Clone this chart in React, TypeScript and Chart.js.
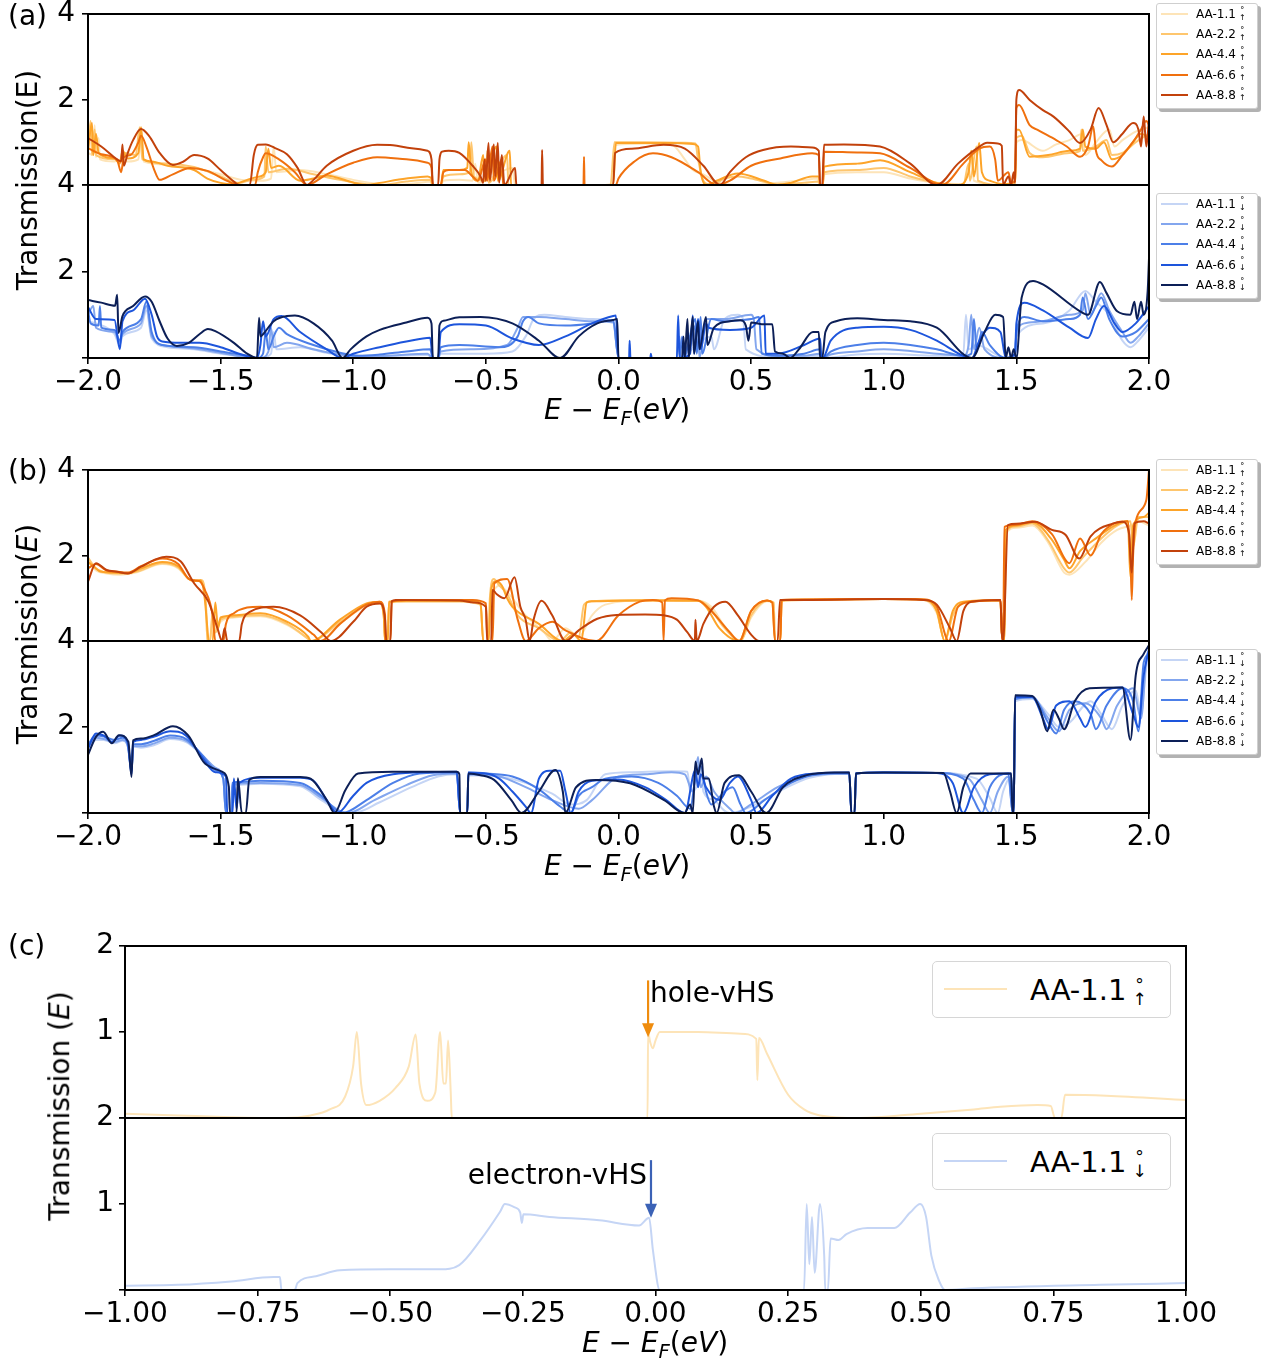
import React, { useEffect, useRef } from 'react';
import { Chart, registerables } from 'chart.js';

Chart.register(...registerables);

type Pt = [number, number];

const FONT = "'DejaVu Sans', sans-serif";

// Colour ramps for the five twist angles (light -> dark)
const ORANGES = ['#fde4b8', '#fec66e', '#fda429', '#f0700e', '#c2410b'];
const BLUES = ['#c5d5f5', '#83a6ee', '#4c7fe8', '#1d55dc', '#0c1f57'];
const ANGLES = ['1.1', '2.2', '4.4', '6.6', '8.8'];

// ---------- (a) AA stacking, spin up ----------
const A_UP_11: Pt[] = [[-2.0,0.75],[-1.98,0.7],[-1.975,1.4],[-1.97,0.65],[-1.96,1.1],[-1.955,0.6],[-1.9,0.55],[-1.87,0.6],[-1.85,0.55],[-1.81,0.6],[-1.8,1.3],[-1.79,0.55],[-1.7,0.48],[-1.6,0.4],[-1.5,0.25],[-1.42,0.12],[-1.35,0.1],[-1.31,0.15],[-1.3,0.9],[-1.29,0.3],[-1.2,0.35],[-1.1,0.25],[-1.0,0.12],[-0.9,0.02],[-0.85,0],[-0.75,0.05],[-0.71,0.08],[-0.7,0],[-0.67,0],[-0.66,0.1],[-0.6,0.12],[-0.55,0.1],[-0.54,0.5],[-0.53,0.05],[-0.4,0.4],[-0.39,0],[-0.05,0],[-0.02,0.05],[-0.015,0.9],[0.0,0.95],[0.1,0.97],[0.2,0.95],[0.25,0.6],[0.28,0.35],[0.32,0.25],[0.36,0.1],[0.4,0.02],[0.5,0],[0.6,0.05],[0.7,0.12],[0.75,0.15],[0.76,0],[0.77,0],[0.775,0.25],[0.9,0.3],[1.0,0.3],[1.1,0.15],[1.2,0.05],[1.3,0.02],[1.33,0.6],[1.34,0.1],[1.45,0],[1.495,0.05],[1.5,1.0],[1.52,1.05],[1.6,0.8],[1.65,0.95],[1.7,1.05],[1.75,1.2],[1.76,0.7],[1.8,1.0],[1.85,1.3],[1.87,0.9],[1.9,1.05],[1.95,1.25],[2.0,1.35]];
const A_UP_22: Pt[] = [[-2.0,0.78],[-1.99,1.5],[-1.985,0.7],[-1.975,1.3],[-1.97,0.7],[-1.9,0.6],[-1.87,0.55],[-1.86,0.75],[-1.82,0.7],[-1.805,1.35],[-1.795,0.6],[-1.7,0.5],[-1.6,0.42],[-1.5,0.2],[-1.43,0.05],[-1.38,0.12],[-1.335,0.2],[-1.33,0.9],[-1.32,0.3],[-1.25,0.38],[-1.15,0.25],[-1.05,0.12],[-0.95,0.02],[-0.9,0],[-0.8,0.08],[-0.71,0.12],[-0.7,0],[-0.67,0],[-0.66,0.2],[-0.6,0.25],[-0.56,0.3],[-0.555,1.0],[-0.545,0.2],[-0.5,0.1],[-0.495,0.8],[-0.49,0.05],[-0.42,0.7],[-0.415,0],[-0.03,0],[-0.015,1.0],[0.1,1.0],[0.25,0.99],[0.29,0.97],[0.3,0.6],[0.32,0.1],[0.35,0],[0.4,0.15],[0.45,0.2],[0.5,0.15],[0.6,0.02],[0.7,0.05],[0.755,0.08],[0.76,0],[0.77,0],[0.775,0.3],[0.9,0.35],[1.0,0.4],[1.1,0.2],[1.2,0.05],[1.3,0],[1.32,0.5],[1.325,0.1],[1.35,0.9],[1.355,0.1],[1.45,0],[1.495,0.05],[1.5,1.1],[1.52,1.15],[1.55,0.75],[1.6,0.65],[1.7,0.75],[1.74,0.8],[1.745,1.3],[1.75,0.8],[1.8,0.9],[1.84,1.05],[1.86,0.7],[1.9,0.75],[1.95,1.0],[2.0,1.2]];
const A_UP_44: Pt[] = [[-2.0,0.82],[-1.985,1.45],[-1.98,0.7],[-1.97,1.2],[-1.96,0.75],[-1.9,0.62],[-1.88,0.5],[-1.87,0.8],[-1.85,0.62],[-1.81,0.75],[-1.8,1.35],[-1.79,0.6],[-1.76,0.55],[-1.7,0.45],[-1.6,0.35],[-1.55,0.15],[-1.5,0.05],[-1.45,0.02],[-1.4,0.12],[-1.36,0.19],[-1.33,0.3],[-1.32,0.85],[-1.31,0.4],[-1.28,0.45],[-1.2,0.1],[-1.15,0.15],[-1.1,0.22],[-1.05,0.15],[-0.98,0.02],[-0.95,0],[-0.9,0.05],[-0.8,0.15],[-0.72,0.2],[-0.705,0.15],[-0.7,0],[-0.67,0],[-0.66,0.35],[-0.6,0.35],[-0.57,0.4],[-0.565,1.0],[-0.555,0.3],[-0.53,0.1],[-0.51,0.7],[-0.505,0.1],[-0.46,0.9],[-0.455,0.1],[-0.41,0.8],[-0.405,0],[-0.02,0],[-0.01,0.98],[0.05,0.98],[0.2,0.98],[0.28,0.96],[0.3,0.9],[0.31,0.3],[0.33,0],[0.37,0.1],[0.45,0.27],[0.55,0.1],[0.6,0],[0.65,0.05],[0.73,0.2],[0.755,0.2],[0.76,0],[0.77,0],[0.775,0.43],[0.9,0.5],[0.986,0.58],[1.1,0.3],[1.2,0.05],[1.28,0],[1.32,0.3],[1.33,0.8],[1.34,0.2],[1.36,0.98],[1.37,0.3],[1.4,0.1],[1.45,0.02],[1.495,0.1],[1.5,1.29],[1.51,1.29],[1.55,0.66],[1.62,0.7],[1.7,0.8],[1.74,0.85],[1.75,1.3],[1.76,0.9],[1.8,0.85],[1.83,1.0],[1.86,0.6],[1.9,0.7],[1.94,1.0],[1.97,1.2],[2.0,1.1]];
const A_UP_66: Pt[] = [[-2.0,0.86],[-1.95,0.72],[-1.89,0.58],[-1.875,0.3],[-1.865,0.65],[-1.84,0.7],[-1.81,1.0],[-1.8,1.15],[-1.78,0.9],[-1.75,0.35],[-1.73,0.12],[-1.68,0.25],[-1.615,0.4],[-1.55,0.33],[-1.476,0.1],[-1.43,0],[-1.37,0],[-1.36,0.3],[-1.34,0.65],[-1.33,0.74],[-1.28,0.6],[-1.22,0.3],[-1.175,0],[-1.1,0.25],[-1.0,0.52],[-0.91,0.65],[-0.8,0.6],[-0.72,0.52],[-0.705,0.4],[-0.7,0],[-0.67,0],[-0.66,0.3],[-0.64,0.35],[-0.58,0.35],[-0.55,0.2],[-0.53,0.1],[-0.5,0.6],[-0.495,0.1],[-0.475,0.9],[-0.47,0.1],[-0.44,0.6],[-0.435,0],[-0.132,0],[-0.13,0.66],[-0.128,0],[-0.01,0],[0.0,0.15],[0.06,0.55],[0.13,0.74],[0.2,0.65],[0.3,0.3],[0.37,0],[0.42,0.1],[0.5,0.45],[0.61,0.62],[0.73,0.74],[0.755,0.7],[0.76,0],[0.77,0],[0.775,0.78],[0.9,0.76],[0.986,0.74],[1.1,0.4],[1.22,0],[1.3,0.5],[1.36,0.85],[1.4,0.9],[1.42,0.6],[1.43,0.1],[1.47,0.3],[1.48,0.05],[1.495,0.1],[1.5,1.8],[1.51,1.87],[1.55,1.4],[1.58,1.29],[1.65,1.05],[1.69,0.9],[1.74,0.66],[1.77,0.9],[1.79,1.37],[1.8,0.8],[1.82,0.58],[1.86,0.43],[1.9,0.7],[1.95,1.1],[1.97,1.3],[1.99,1.5],[2.0,1.4]];
const A_UP_88: Pt[] = [[-2.0,1.1],[-1.95,0.9],[-1.89,0.6],[-1.875,0.55],[-1.87,0.95],[-1.865,0.45],[-1.85,0.75],[-1.83,1.05],[-1.8,1.31],[-1.77,1.15],[-1.73,0.75],[-1.68,0.47],[-1.64,0.55],[-1.6,0.7],[-1.55,0.62],[-1.5,0.35],[-1.45,0.08],[-1.43,0],[-1.39,0],[-1.375,0.7],[-1.36,0.94],[-1.33,0.95],[-1.29,0.85],[-1.25,0.72],[-1.21,0.4],[-1.175,0],[-1.15,0.12],[-1.1,0.45],[-1.0,0.8],[-0.91,0.94],[-0.85,0.93],[-0.78,0.86],[-0.72,0.8],[-0.705,0.6],[-0.7,0],[-0.68,0],[-0.675,0.6],[-0.665,0.78],[-0.64,0.8],[-0.6,0.75],[-0.55,0.45],[-0.52,0.2],[-0.51,0.05],[-0.505,0.6],[-0.5,0.1],[-0.49,0.98],[-0.485,0.1],[-0.47,0.95],[-0.465,0.2],[-0.455,0.98],[-0.45,0.05],[-0.44,0.7],[-0.43,0],[-0.39,0.4],[-0.385,0],[-0.29,0],[-0.288,0.82],[-0.285,0],[-0.02,0],[-0.013,0.75],[0.05,0.85],[0.17,0.94],[0.25,0.85],[0.32,0.45],[0.383,0],[0.42,0.3],[0.48,0.65],[0.545,0.82],[0.65,0.9],[0.73,0.88],[0.755,0.8],[0.76,0],[0.768,0],[0.775,0.94],[0.85,0.95],[0.986,0.9],[1.1,0.5],[1.2,0],[1.28,0.5],[1.35,0.85],[1.39,0.99],[1.43,0.97],[1.445,0.92],[1.45,0],[1.47,0.2],[1.48,0],[1.49,0.3],[1.495,0.05],[1.5,2.0],[1.51,2.22],[1.55,1.99],[1.6,1.75],[1.64,1.6],[1.7,1.25],[1.74,0.98],[1.78,1.3],[1.81,1.8],[1.84,1.4],[1.865,1.0],[1.9,1.2],[1.94,1.45],[1.96,1.3],[1.97,0.9],[1.98,1.6],[1.99,0.9],[2.0,1.55]];

// ---------- (a) AA stacking, spin down ----------
const A_DN_11: Pt[] = [[-2.0,0.85],[-1.97,0.8],[-1.9,0.55],[-1.88,0.3],[-1.87,0.5],[-1.8,0.7],[-1.78,1.1],[-1.76,0.45],[-1.7,0.25],[-1.6,0.2],[-1.5,0.1],[-1.4,0.02],[-1.35,0],[-1.31,0.1],[-1.3,0.6],[-1.29,0.2],[-1.2,0.25],[-1.1,0.12],[-1.0,0.05],[-0.9,0.05],[-0.72,0.07],[-0.7,0],[-0.68,0],[-0.67,0.1],[-0.5,0.1],[-0.4,0.15],[-0.35,0.5],[-0.32,0.9],[-0.28,1.0],[-0.2,0.95],[-0.1,0.9],[-0.02,0.85],[0.0,0],[0.22,0],[0.35,0.5],[0.36,0.2],[0.4,0.9],[0.45,1.0],[0.47,0.9],[0.48,0.2],[0.6,0.02],[0.76,0.05],[0.765,0],[0.77,0],[0.9,0.08],[1.0,0.1],[1.2,0.05],[1.3,0.1],[1.31,1.0],[1.32,0.2],[1.35,0.3],[1.46,0],[1.495,0.05],[1.5,0.5],[1.6,0.8],[1.7,1.1],[1.76,1.55],[1.8,1.3],[1.85,1.0],[1.9,0.4],[1.93,0.25],[1.96,0.4],[2.0,0.7]];
const A_DN_22: Pt[] = [[-2.0,1.0],[-1.98,1.2],[-1.97,0.7],[-1.9,0.6],[-1.88,0.35],[-1.87,0.55],[-1.8,0.8],[-1.78,1.2],[-1.76,0.5],[-1.7,0.28],[-1.6,0.22],[-1.5,0.12],[-1.42,0.03],[-1.35,0],[-1.32,0.15],[-1.31,0.7],[-1.3,0.25],[-1.25,0.35],[-1.15,0.2],[-1.05,0.08],[-0.95,0.03],[-0.85,0.06],[-0.72,0.1],[-0.7,0],[-0.68,0],[-0.67,0.15],[-0.55,0.2],[-0.42,0.3],[-0.38,0.7],[-0.36,0.95],[-0.3,0.95],[-0.2,0.9],[-0.1,0.85],[-0.02,0.82],[0.0,0],[0.22,0],[0.23,0.5],[0.235,0],[0.3,0.8],[0.305,0],[0.33,0.9],[0.4,0.9],[0.5,1.0],[0.51,0.9],[0.52,0.2],[0.6,0.05],[0.7,0.05],[0.76,0.1],[0.765,0],[0.77,0],[0.8,0.08],[0.9,0.15],[1.0,0.2],[1.2,0.1],[1.3,0.05],[1.32,0.3],[1.33,1.0],[1.34,0.2],[1.36,0.7],[1.38,0.2],[1.46,0],[1.495,0.05],[1.5,0.55],[1.53,0.8],[1.6,0.85],[1.7,1.0],[1.75,1.1],[1.76,1.5],[1.78,1.0],[1.82,1.5],[1.85,1.1],[1.9,0.6],[1.93,0.35],[1.96,0.5],[2.0,0.8]];
const A_DN_44: Pt[] = [[-2.0,1.1],[-1.99,0.8],[-1.96,0.75],[-1.955,1.2],[-1.95,0.7],[-1.9,0.65],[-1.88,0.4],[-1.87,0.6],[-1.8,0.9],[-1.78,1.3],[-1.76,0.6],[-1.72,0.3],[-1.6,0.25],[-1.5,0.15],[-1.4,0.05],[-1.36,0],[-1.34,0.1],[-1.33,0.6],[-1.32,0.2],[-1.3,0.5],[-1.28,0.7],[-1.25,0.55],[-1.15,0.3],[-1.05,0.12],[-0.98,0.05],[-0.9,0.08],[-0.8,0.15],[-0.71,0.2],[-0.7,0],[-0.68,0],[-0.67,0.25],[-0.6,0.3],[-0.45,0.25],[-0.38,0.5],[-0.36,0.85],[-0.34,0.95],[-0.3,0.8],[-0.2,0.75],[-0.1,0.8],[-0.02,0.88],[0.0,0],[0.23,0],[0.24,0.5],[0.245,0],[0.29,0.9],[0.295,0.1],[0.31,0.95],[0.315,0.1],[0.35,0.9],[0.4,0.85],[0.47,0.88],[0.5,0.9],[0.53,0.95],[0.54,0.1],[0.6,0.05],[0.7,0.1],[0.76,0.2],[0.765,0],[0.77,0],[0.8,0.15],[0.9,0.3],[1.0,0.35],[1.1,0.3],[1.2,0.2],[1.3,0.05],[1.33,0.1],[1.34,0.9],[1.35,0.2],[1.37,0.6],[1.4,0.3],[1.46,0],[1.495,0.1],[1.5,0.6],[1.53,0.95],[1.6,0.85],[1.7,0.9],[1.74,1.0],[1.75,1.4],[1.77,0.9],[1.8,1.2],[1.82,1.4],[1.85,0.9],[1.9,0.5],[1.95,0.6],[2.0,0.9]];
const A_DN_66: Pt[] = [[-2.0,1.18],[-1.97,0.9],[-1.9,0.88],[-1.88,0.2],[-1.87,0.85],[-1.83,1.1],[-1.785,1.37],[-1.76,1.0],[-1.74,0.5],[-1.72,0.38],[-1.65,0.35],[-1.58,0.35],[-1.5,0.25],[-1.42,0.08],[-1.363,0],[-1.35,0.3],[-1.34,0.85],[-1.33,0.5],[-1.3,0.9],[-1.27,0.97],[-1.2,0.6],[-1.1,0.2],[-1.04,0],[-1.0,0.1],[-0.9,0.25],[-0.8,0.38],[-0.71,0.47],[-0.7,0],[-0.68,0],[-0.67,0.6],[-0.6,0.78],[-0.5,0.75],[-0.4,0.45],[-0.3,0.3],[-0.2,0.5],[-0.1,0.8],[-0.02,0.97],[-0.01,0.98],[0.0,0],[0.04,0],[0.042,0.4],[0.045,0],[0.12,0],[0.122,0.1],[0.125,0],[0.22,0],[0.225,0.98],[0.23,0],[0.27,0.1],[0.28,0.98],[0.285,0.1],[0.3,0.9],[0.31,0.2],[0.33,0.8],[0.34,0.7],[0.42,0.65],[0.5,0.7],[0.55,0.98],[0.555,0.1],[0.6,0.1],[0.7,0.3],[0.76,0.45],[0.765,0],[0.77,0],[0.8,0.4],[0.9,0.7],[1.0,0.72],[1.1,0.65],[1.2,0.4],[1.3,0.05],[1.333,0],[1.36,0.4],[1.4,0.7],[1.44,0.6],[1.46,0],[1.495,0.1],[1.5,0.8],[1.53,1.28],[1.6,1.1],[1.7,0.7],[1.77,0.46],[1.8,0.9],[1.83,1.2],[1.87,0.8],[1.9,0.6],[1.95,0.8],[2.0,1.2]];
const A_DN_88: Pt[] = [[-2.0,1.34],[-1.95,1.28],[-1.898,1.21],[-1.89,1.46],[-1.885,0.58],[-1.87,0.97],[-1.83,1.2],[-1.785,1.42],[-1.76,1.3],[-1.73,0.85],[-1.7,0.45],[-1.665,0.28],[-1.62,0.35],[-1.58,0.55],[-1.548,0.67],[-1.52,0.62],[-1.45,0.35],[-1.4,0.1],[-1.363,0],[-1.355,0.93],[-1.35,0.5],[-1.34,0.55],[-1.3,0.85],[-1.25,0.97],[-1.22,0.98],[-1.15,0.8],[-1.08,0.4],[-1.04,0],[-1.01,0.2],[-0.95,0.5],[-0.9,0.65],[-0.8,0.82],[-0.72,0.93],[-0.705,0.8],[-0.7,0],[-0.68,0],[-0.675,0.75],[-0.66,0.86],[-0.6,0.94],[-0.52,0.95],[-0.4,0.8],[-0.3,0.4],[-0.22,0],[-0.15,0.5],[-0.08,0.8],[-0.02,0.88],[-0.005,0.9],[0.0,0],[0.24,0],[0.245,0.5],[0.25,0],[0.26,0.9],[0.265,0],[0.28,0.95],[0.285,0.1],[0.3,0.85],[0.305,0.2],[0.33,0.95],[0.335,0.3],[0.36,0.7],[0.42,0.85],[0.46,0.87],[0.48,0.75],[0.49,0.4],[0.5,0.82],[0.55,0.78],[0.58,0.78],[0.59,0.15],[0.62,0.1],[0.647,0],[0.68,0.2],[0.733,0.6],[0.755,0.6],[0.76,0],[0.768,0],[0.78,0.6],[0.82,0.85],[0.9,0.92],[1.0,0.88],[1.1,0.85],[1.2,0.7],[1.333,0],[1.38,0.6],[1.42,1.0],[1.45,0.95],[1.46,0],[1.47,0.25],[1.48,0],[1.49,0.2],[1.5,0],[1.52,1.4],[1.563,1.78],[1.6,1.7],[1.74,1.08],[1.77,1.0],[1.815,1.76],[1.84,1.5],[1.88,1.08],[1.93,1.0],[1.945,1.3],[1.955,0.9],[1.97,1.3],[1.98,1.0],[1.995,1.55],[2.0,2.3]];

// ---------- (b) AB stacking, spin up ----------
const B_UP_11: Pt[] = [[-2.0,1.9],[-1.97,1.65],[-1.93,1.58],[-1.88,1.55],[-1.82,1.6],[-1.72,1.8],[-1.66,1.7],[-1.62,1.45],[-1.6,1.42],[-1.57,1.4],[-1.555,0.8],[-1.55,0],[-1.54,0],[-1.53,0.6],[-1.52,0.2],[-1.5,0.45],[-1.45,0.55],[-1.35,0.58],[-1.25,0.38],[-1.17,0.05],[-1.16,0],[-1.05,0.42],[-0.95,0.82],[-0.9,0.88],[-0.885,0.6],[-0.88,0],[-0.87,0],[-0.865,0.9],[-0.8,0.92],[-0.6,0.92],[-0.52,0.85],[-0.51,0],[-0.49,0],[-0.485,0.9],[-0.47,1.2],[-0.45,1.3],[-0.42,1.15],[-0.35,0.6],[-0.28,0.2],[-0.25,0],[-0.2,0.3],[-0.15,0.1],[-0.1,0.6],[-0.05,0.85],[0.1,0.95],[0.3,0.95],[0.35,0.8],[0.4,0.35],[0.46,0],[0.5,0.55],[0.56,0.93],[0.585,0.9],[0.59,0],[0.61,0],[0.615,0.94],[0.7,0.96],[1.0,0.98],[1.15,0.96],[1.2,0.65],[1.23,0],[1.26,0.6],[1.3,0.9],[1.44,0.95],[1.445,0.2],[1.455,0],[1.46,2.5],[1.5,2.65],[1.56,2.7],[1.62,2.3],[1.68,1.6],[1.7,1.55],[1.76,1.85],[1.82,2.3],[1.88,2.6],[1.93,2.7],[1.96,2.8],[2.0,2.7]];
const B_UP_22: Pt[] = [[-2.0,1.95],[-1.97,1.7],[-1.93,1.6],[-1.88,1.58],[-1.82,1.62],[-1.72,1.82],[-1.66,1.72],[-1.62,1.45],[-1.6,1.42],[-1.57,1.42],[-1.555,0.8],[-1.55,0],[-1.54,0],[-1.53,0.7],[-1.52,0.2],[-1.5,0.5],[-1.45,0.57],[-1.35,0.6],[-1.25,0.4],[-1.17,0.05],[-1.16,0],[-1.05,0.45],[-0.95,0.85],[-0.9,0.9],[-0.885,0.6],[-0.88,0],[-0.87,0],[-0.865,0.9],[-0.8,0.93],[-0.6,0.93],[-0.52,0.85],[-0.51,0],[-0.49,0],[-0.485,1.0],[-0.47,1.45],[-0.45,1.3],[-0.42,1.1],[-0.38,0.6],[-0.3,0.3],[-0.22,0],[-0.18,0.2],[-0.15,0.1],[-0.13,0.85],[-0.1,0.93],[0.1,0.96],[0.3,0.95],[0.34,0.8],[0.4,0.3],[0.46,0],[0.5,0.6],[0.56,0.94],[0.585,0.9],[0.59,0],[0.61,0],[0.615,0.94],[0.7,0.96],[1.0,0.98],[1.15,0.96],[1.2,0.7],[1.23,0],[1.26,0.6],[1.3,0.9],[1.44,0.95],[1.445,0.2],[1.455,0],[1.46,2.55],[1.5,2.68],[1.56,2.75],[1.62,2.35],[1.68,1.7],[1.7,1.6],[1.75,1.95],[1.82,2.4],[1.88,2.7],[1.93,2.8],[1.94,2.2],[1.96,2.9],[2.0,2.9]];
const B_UP_44: Pt[] = [[-2.0,1.85],[-1.98,1.75],[-1.95,1.62],[-1.9,1.6],[-1.85,1.58],[-1.8,1.7],[-1.72,1.85],[-1.66,1.75],[-1.62,1.45],[-1.6,1.4],[-1.575,1.42],[-1.56,1.0],[-1.55,0.3],[-1.545,0],[-1.53,0],[-1.52,0.9],[-1.51,0.3],[-1.5,0.55],[-1.45,0.6],[-1.35,0.65],[-1.25,0.45],[-1.17,0.1],[-1.16,0],[-1.05,0.5],[-0.95,0.88],[-0.9,0.92],[-0.885,0.6],[-0.88,0],[-0.87,0],[-0.865,0.92],[-0.8,0.94],[-0.6,0.94],[-0.52,0.9],[-0.51,0],[-0.49,0],[-0.48,1.2],[-0.46,1.4],[-0.44,1.3],[-0.42,1.0],[-0.4,0.8],[-0.3,0.4],[-0.21,0],[-0.17,0.15],[-0.14,0],[-0.12,0.9],[-0.1,0.93],[0.1,0.95],[0.3,0.94],[0.33,0.8],[0.38,0.3],[0.455,0],[0.5,0.7],[0.56,0.95],[0.58,0.9],[0.59,0],[0.61,0],[0.615,0.95],[0.7,0.97],[1.0,0.98],[1.15,0.97],[1.2,0.7],[1.23,0],[1.26,0.7],[1.3,0.92],[1.44,0.96],[1.445,0.2],[1.455,0],[1.46,2.6],[1.5,2.7],[1.56,2.78],[1.63,2.4],[1.68,1.9],[1.7,1.7],[1.74,2.1],[1.8,2.4],[1.87,2.7],[1.92,2.8],[1.93,1.5],[1.94,2.7],[1.98,2.9],[2.0,3.0]];
const B_UP_66: Pt[] = [[-2.0,1.7],[-1.97,1.8],[-1.93,1.65],[-1.89,1.62],[-1.85,1.6],[-1.8,1.75],[-1.72,1.93],[-1.66,1.8],[-1.62,1.45],[-1.6,1.42],[-1.58,1.4],[-1.56,1.2],[-1.53,0.6],[-1.52,0],[-1.49,0],[-1.48,0.4],[-1.45,0.65],[-1.35,0.8],[-1.25,0.6],[-1.15,0.15],[-1.123,0],[-1.05,0.4],[-0.95,0.85],[-0.9,0.92],[-0.88,0.6],[-0.879,0],[-0.86,0],[-0.855,0.92],[-0.8,0.96],[-0.55,0.96],[-0.5,0.88],[-0.494,0],[-0.475,0],[-0.468,1.35],[-0.42,1.45],[-0.38,0.5],[-0.35,0],[-0.3,0.3],[-0.25,0.45],[-0.2,0.25],[-0.084,0],[0.0,0.6],[0.08,0.92],[0.13,0.96],[0.165,0.9],[0.17,0],[0.175,0.95],[0.2,1.0],[0.3,0.95],[0.35,0.7],[0.42,0.2],[0.455,0],[0.5,0.7],[0.56,0.95],[0.58,0.9],[0.59,0],[0.61,0],[0.615,0.96],[0.7,0.97],[1.0,0.98],[1.15,0.97],[1.2,0.8],[1.245,0],[1.28,0.8],[1.33,0.92],[1.44,0.96],[1.445,0.2],[1.45,0],[1.455,2.67],[1.5,2.72],[1.56,2.8],[1.634,2.5],[1.7,1.82],[1.74,2.4],[1.78,2.0],[1.82,2.5],[1.87,2.75],[1.92,2.8],[1.93,2.0],[1.935,0.96],[1.94,2.0],[1.95,2.8],[1.99,3.3],[2.0,4.0]];
const B_UP_88: Pt[] = [[-2.0,1.39],[-1.97,1.82],[-1.93,1.66],[-1.89,1.62],[-1.85,1.58],[-1.8,1.74],[-1.74,1.92],[-1.705,1.97],[-1.65,1.86],[-1.6,1.35],[-1.546,0.92],[-1.51,0.26],[-1.495,0],[-1.485,0.3],[-1.475,0],[-1.43,0],[-1.42,0.4],[-1.39,0.68],[-1.3,0.8],[-1.2,0.6],[-1.12,0.2],[-1.084,0],[-1.0,0.45],[-0.95,0.8],[-0.9,0.88],[-0.88,0.5],[-0.875,0],[-0.86,0],[-0.855,0.93],[-0.84,0.96],[-0.6,0.95],[-0.545,0.9],[-0.5,0.8],[-0.495,0],[-0.48,0],[-0.475,1.2],[-0.46,1.1],[-0.43,1.0],[-0.392,1.49],[-0.37,0.8],[-0.35,0.5],[-0.335,0],[-0.32,0.5],[-0.29,0.94],[-0.25,0.6],[-0.2,0],[-0.15,0.25],[-0.08,0.52],[-0.007,0.61],[0.1,0.62],[0.172,0.6],[0.22,0.5],[0.26,0.2],[0.288,0],[0.29,0.5],[0.295,0],[0.32,0.4],[0.36,0.8],[0.403,0.92],[0.45,0.6],[0.5,0.15],[0.53,0],[0.6,0],[0.609,0.96],[0.7,0.96],[1.0,0.98],[1.15,0.96],[1.2,0.85],[1.25,0.3],[1.275,0],[1.3,0.7],[1.33,0.92],[1.44,0.96],[1.445,0.2],[1.45,0],[1.468,2.71],[1.5,2.74],[1.57,2.79],[1.634,2.6],[1.686,2.48],[1.737,1.93],[1.78,2.45],[1.865,2.75],[1.9,2.79],[1.925,2.5],[1.93,1.93],[1.935,1.6],[1.945,2.75],[1.98,2.8],[2.0,2.75]];

// ---------- (b) AB stacking, spin down ----------
const B_DN_11: Pt[] = [[-2.0,1.5],[-1.97,1.7],[-1.94,1.7],[-1.9,1.62],[-1.87,1.68],[-1.85,1.55],[-1.836,1.05],[-1.83,1.55],[-1.8,1.52],[-1.75,1.58],[-1.69,1.72],[-1.63,1.65],[-1.57,1.35],[-1.52,1.05],[-1.49,0.8],[-1.48,0],[-1.46,0],[-1.455,0.6],[-1.44,0.65],[-1.35,0.68],[-1.2,0.62],[-1.12,0.3],[-1.04,0.02],[-1.0,0],[-0.9,0.25],[-0.78,0.6],[-0.68,0.85],[-0.61,0.9],[-0.597,0],[-0.57,0],[-0.566,0.88],[-0.45,0.85],[-0.35,0.7],[-0.25,0.45],[-0.18,0.2],[-0.12,0.3],[-0.05,0.9],[0.05,0.95],[0.2,0.97],[0.26,0.96],[0.27,0.5],[0.3,0.7],[0.31,1.1],[0.32,0.5],[0.36,0.3],[0.4,0.05],[0.42,0],[0.5,0.15],[0.62,0.55],[0.72,0.82],[0.87,0.92],[0.878,0],[0.89,0],[0.895,0.92],[1.0,0.94],[1.2,0.93],[1.35,0.8],[1.4,0.35],[1.43,0],[1.45,0.5],[1.48,0.85],[1.486,0],[1.49,0],[1.495,2.6],[1.56,2.65],[1.62,2.3],[1.66,2.0],[1.7,2.1],[1.78,2.6],[1.82,2.3],[1.86,1.95],[1.9,2.5],[1.95,2.85],[1.97,2.3],[1.99,3.4],[2.0,3.6]];
const B_DN_22: Pt[] = [[-2.0,1.55],[-1.97,1.75],[-1.94,1.72],[-1.9,1.65],[-1.87,1.7],[-1.85,1.55],[-1.836,1.0],[-1.83,1.55],[-1.8,1.55],[-1.75,1.62],[-1.69,1.75],[-1.63,1.68],[-1.57,1.35],[-1.52,1.05],[-1.49,0.8],[-1.48,0],[-1.46,0],[-1.455,0.65],[-1.44,0.68],[-1.35,0.7],[-1.2,0.65],[-1.12,0.35],[-1.05,0.05],[-1.02,0],[-0.92,0.3],[-0.8,0.65],[-0.7,0.88],[-0.61,0.92],[-0.597,0],[-0.57,0],[-0.566,0.9],[-0.45,0.85],[-0.35,0.6],[-0.25,0.3],[-0.15,0.1],[-0.1,0.3],[0.0,0.85],[0.1,0.9],[0.2,0.95],[0.25,0.9],[0.28,0.5],[0.3,1.3],[0.31,0.6],[0.33,0.85],[0.36,0.5],[0.42,0.1],[0.44,0],[0.5,0.2],[0.6,0.6],[0.7,0.85],[0.87,0.92],[0.878,0],[0.89,0],[0.895,0.92],[1.0,0.94],[1.2,0.93],[1.32,0.8],[1.37,0.3],[1.4,0],[1.43,0.5],[1.47,0.85],[1.486,0],[1.49,0],[1.495,2.65],[1.56,2.68],[1.62,2.2],[1.66,1.9],[1.7,2.4],[1.76,2.55],[1.82,2.2],[1.84,1.95],[1.88,2.5],[1.94,2.9],[1.97,2.2],[1.99,3.6],[2.0,3.8]];
const B_DN_44: Pt[] = [[-2.0,1.6],[-1.97,1.8],[-1.94,1.78],[-1.9,1.7],[-1.87,1.75],[-1.85,1.6],[-1.836,0.95],[-1.83,1.6],[-1.8,1.6],[-1.75,1.68],[-1.69,1.8],[-1.63,1.72],[-1.57,1.35],[-1.52,1.0],[-1.49,0.8],[-1.48,0],[-1.46,0],[-1.455,0.7],[-1.44,0.72],[-1.35,0.75],[-1.2,0.7],[-1.12,0.4],[-1.06,0.05],[-1.04,0],[-0.95,0.3],[-0.85,0.7],[-0.75,0.92],[-0.61,0.95],[-0.597,0],[-0.57,0],[-0.566,0.95],[-0.5,0.92],[-0.4,0.85],[-0.3,0.55],[-0.22,0.15],[-0.18,0],[-0.15,0.4],[-0.1,0.6],[-0.05,0.8],[0.05,0.85],[0.15,0.7],[0.22,0.4],[0.27,0.1],[0.29,0.8],[0.31,1.1],[0.33,0.5],[0.35,0.2],[0.4,0.5],[0.43,0.6],[0.46,0.2],[0.48,0],[0.55,0.3],[0.65,0.7],[0.75,0.9],[0.87,0.93],[0.878,0],[0.89,0],[0.895,0.92],[1.0,0.94],[1.2,0.93],[1.3,0.8],[1.34,0.3],[1.37,0],[1.4,0.6],[1.47,0.92],[1.486,0],[1.49,0],[1.495,2.65],[1.56,2.7],[1.62,2.1],[1.65,1.85],[1.68,2.4],[1.72,2.6],[1.78,2.3],[1.8,1.95],[1.84,2.5],[1.9,2.9],[1.94,2.6],[1.96,1.9],[1.98,3.5],[2.0,3.7]];
const B_DN_66: Pt[] = [[-2.0,1.5],[-1.97,1.85],[-1.94,1.8],[-1.91,1.65],[-1.88,1.8],[-1.85,1.65],[-1.836,0.9],[-1.83,1.65],[-1.8,1.7],[-1.75,1.78],[-1.69,1.9],[-1.63,1.8],[-1.57,1.3],[-1.52,0.95],[-1.48,0.85],[-1.475,0],[-1.455,0],[-1.45,0.8],[-1.44,0.1],[-1.43,0.7],[-1.35,0.82],[-1.2,0.82],[-1.15,0.75],[-1.1,0.3],[-1.06,0],[-1.0,0.4],[-0.95,0.7],[-0.85,0.9],[-0.7,0.95],[-0.61,0.96],[-0.597,0],[-0.57,0],[-0.566,0.93],[-0.5,0.92],[-0.45,0.8],[-0.4,0.5],[-0.35,0.15],[-0.33,0],[-0.3,0.8],[-0.26,0.98],[-0.22,0.98],[-0.2,0.5],[-0.18,0],[-0.15,0.5],[-0.1,0.75],[0.0,0.78],[0.1,0.6],[0.18,0.3],[0.25,0],[0.29,1.0],[0.3,0.6],[0.31,0.9],[0.33,0.6],[0.38,0.3],[0.42,0.7],[0.45,0.85],[0.5,0.3],[0.52,0],[0.58,0.4],[0.65,0.8],[0.75,0.92],[0.87,0.94],[0.878,0],[0.89,0],[0.895,0.92],[1.0,0.94],[1.2,0.93],[1.26,0.7],[1.3,0],[1.34,0.6],[1.4,0.9],[1.48,0.92],[1.486,0],[1.49,0],[1.495,2.7],[1.56,2.7],[1.6,2.2],[1.62,1.95],[1.65,2.5],[1.7,2.6],[1.74,2.2],[1.76,2.0],[1.8,2.6],[1.86,2.9],[1.9,2.92],[1.94,2.3],[1.96,2.0],[1.98,3.2],[2.0,3.8]];
const B_DN_88: Pt[] = [[-2.0,1.35],[-1.97,1.77],[-1.943,1.89],[-1.91,1.62],[-1.884,1.81],[-1.848,1.66],[-1.836,0.84],[-1.83,1.69],[-1.8,1.73],[-1.751,1.81],[-1.68,2.02],[-1.623,1.81],[-1.559,1.15],[-1.495,0.96],[-1.469,0.61],[-1.465,0],[-1.44,0],[-1.435,0.81],[-1.42,0],[-1.405,0],[-1.392,0.77],[-1.35,0.84],[-1.2,0.84],[-1.161,0.8],[-1.1,0.3],[-1.071,0],[-1.03,0.53],[-0.982,0.92],[-0.853,0.96],[-0.61,0.96],[-0.6,0.9],[-0.597,0],[-0.57,0],[-0.566,0.92],[-0.52,0.88],[-0.469,0.77],[-0.404,0.3],[-0.366,0],[-0.3,0.5],[-0.238,1.0],[-0.21,0.5],[-0.2,0],[-0.16,0.6],[-0.084,0.77],[0.044,0.69],[0.172,0.3],[0.249,0],[0.27,0.2],[0.28,0],[0.29,1.2],[0.3,0.9],[0.314,1.27],[0.32,0.8],[0.34,0.8],[0.36,0.15],[0.37,0],[0.4,0.7],[0.455,0.88],[0.5,0.5],[0.557,0],[0.62,0.6],[0.71,0.88],[0.814,0.94],[0.87,0.94],[0.878,0],[0.89,0],[0.895,0.92],[1.0,0.94],[1.225,0.93],[1.25,0.5],[1.275,0],[1.3,0.6],[1.327,0.92],[1.48,0.92],[1.486,0],[1.49,0],[1.495,2.74],[1.56,2.72],[1.59,2.4],[1.616,1.9],[1.64,2.4],[1.66,2.2],[1.68,1.95],[1.72,2.6],[1.776,2.9],[1.9,2.92],[1.93,1.7],[1.95,3.2],[1.98,3.7],[2.0,3.9]];

// ---------- (c) AA-1.1, narrow energy window ----------
const C_UP_11: Pt[] = [[-1.0,0.05],[-0.9,0.03],[-0.8,0.01],[-0.7,0],[-0.65,0.03],[-0.614,0.1],[-0.585,0.25],[-0.57,0.6],[-0.563,1.0],[-0.555,0.4],[-0.545,0.15],[-0.52,0.2],[-0.49,0.35],[-0.465,0.6],[-0.452,0.97],[-0.445,0.4],[-0.43,0.2],[-0.415,0.3],[-0.406,1.0],[-0.4,0.4],[-0.395,0.4],[-0.391,0.9],[-0.386,0.3],[-0.384,0],[-0.3,0],[-0.1,0],[-0.015,0],[-0.014,1.0],[-0.01,0.88],[-0.005,0.81],[0.0,0.9],[0.008,1.0],[0.08,1.0],[0.16,0.98],[0.19,0.92],[0.192,0.44],[0.195,0.93],[0.21,0.75],[0.25,0.27],[0.28,0.1],[0.31,0.03],[0.385,0],[0.5,0.05],[0.6,0.1],[0.65,0.13],[0.72,0.15],[0.745,0.14],[0.753,0],[0.765,0],[0.772,0.27],[0.85,0.26],[1.0,0.21]];
const C_DN_11: Pt[] = [[-1.0,0.05],[-0.9,0.06],[-0.8,0.1],[-0.72,0.15],[-0.708,0.15],[-0.705,0],[-0.68,0],[-0.675,0.08],[-0.64,0.16],[-0.595,0.23],[-0.5,0.24],[-0.406,0.24],[-0.37,0.29],[-0.33,0.58],[-0.293,0.91],[-0.284,1.0],[-0.265,0.96],[-0.255,0.9],[-0.252,0.78],[-0.249,0.88],[-0.2,0.85],[-0.106,0.81],[-0.031,0.75],[-0.012,0.84],[-0.005,0.47],[0.008,0],[0.28,0],[0.285,1.0],[0.29,0.3],[0.295,0.85],[0.3,0.2],[0.31,1.0],[0.318,0.4],[0.32,0],[0.325,0],[0.33,0.6],[0.345,0.58],[0.36,0.65],[0.4,0.72],[0.45,0.72],[0.48,0.9],[0.499,1.0],[0.51,0.85],[0.52,0.4],[0.535,0.1],[0.546,0],[0.6,0.02],[0.838,0.06],[1.0,0.08]];

type Series = { data: Pt[]; color: string; width: number };
type Arrow = { e: number; from: number; to: number; color: string };

interface PanelProps {
  top: number;
  height: number;
  padTop: number;
  padBottom: number;
  padRight: number;
  yAxisWidth: number;
  yTickPad: number;
  xMin: number;
  xMax: number;
  xStep: number;
  xDecimals: number;
  showX: boolean;
  yMax: number;
  yStep: number;
  series: Series[];
  arrow?: Arrow;
}

const TICK_SIZE = 28;

function fmtTick(v: number, decimals: number): string {
  if (Math.abs(v) < 1e-9) return (0).toFixed(decimals);
  return v.toFixed(decimals).replace('-', '\u2212');
}

const framePlugin = {
  id: 'frame',
  afterDatasetsDraw(chart: any) {
    const { ctx, chartArea } = chart;
    ctx.save();
    ctx.strokeStyle = '#000';
    ctx.lineWidth = 2;
    ctx.strokeRect(chartArea.left, chartArea.top, chartArea.right - chartArea.left, chartArea.bottom - chartArea.top);
    ctx.restore();
  },
};

function Panel(p: PanelProps) {
  const ref = useRef<HTMLCanvasElement>(null);
  useEffect(() => {
    const canvas = ref.current;
    if (!canvas) return;
    const arrowPlugin = {
      id: 'vhsArrow',
      afterDatasetsDraw(chart: any) {
        if (!p.arrow) return;
        const { ctx, scales } = chart;
        const x = scales.x.getPixelForValue(p.arrow.e);
        const y0 = scales.y.getPixelForValue(p.arrow.from);
        const y1 = scales.y.getPixelForValue(p.arrow.to);
        const head = 14;
        ctx.save();
        ctx.strokeStyle = p.arrow.color;
        ctx.fillStyle = p.arrow.color;
        ctx.lineWidth = 2.2;
        ctx.beginPath();
        ctx.moveTo(x, y0);
        ctx.lineTo(x, y1 - head + 2);
        ctx.stroke();
        ctx.beginPath();
        ctx.moveTo(x - 6, y1 - head);
        ctx.lineTo(x + 6, y1 - head);
        ctx.lineTo(x, y1);
        ctx.closePath();
        ctx.fill();
        ctx.restore();
      },
    };
    const n = p.series.length;
    const tickGrid = {
      display: true,
      drawOnChartArea: false,
      drawTicks: true,
      tickLength: 6,
      color: '#000',
      lineWidth: 1.6,
    };
    const chart = new Chart(canvas, {
      type: 'line',
      data: {
        datasets: p.series.map((s, i) => ({
          data: s.data.map(([x, y]) => ({ x, y })),
          borderColor: s.color,
          borderWidth: s.width,
          pointRadius: 0,
          cubicInterpolationMode: 'monotone' as const,
          fill: false,
          order: n - 1 - i,
          borderJoinStyle: 'round' as const,
          borderCapStyle: 'round' as const,
        })),
      },
      options: {
        responsive: false,
        animation: false,
        devicePixelRatio: 1,
        events: [],
        layout: { padding: { left: 0, right: p.padRight, top: p.padTop, bottom: p.padBottom } },
        plugins: { legend: { display: false }, tooltip: { enabled: false } },
        scales: {
          x: {
            type: 'linear',
            min: p.xMin,
            max: p.xMax,
            display: p.showX,
            afterFit: (s: any) => { s.height = p.showX ? 50 : 0; },
            border: { display: false },
            grid: tickGrid,
            ticks: {
              stepSize: p.xStep,
              autoSkip: false,
              maxRotation: 0,
              minRotation: 0,
              padding: 2,
              color: '#000',
              font: { family: FONT, size: TICK_SIZE },
              callback: (v: any) => fmtTick(Number(v), p.xDecimals),
            },
          },
          y: {
            type: 'linear',
            min: 0,
            max: p.yMax,
            afterFit: (s: any) => { s.width = p.yAxisWidth; },
            border: { display: false },
            grid: tickGrid,
            ticks: {
              stepSize: p.yStep,
              padding: p.yTickPad,
              color: '#000',
              font: { family: FONT, size: TICK_SIZE },
              callback: (v: any) => (Number(v) === 0 ? '' : String(v)),
            },
          },
        },
      } as any,
      plugins: [framePlugin, arrowPlugin],
    });
    return () => chart.destroy();
  }, []);
  return (
    <canvas
      ref={ref}
      width={1270}
      height={p.height}
      style={{ position: 'absolute', left: 0, top: p.top, width: 1270, height: p.height }}
    />
  );
}

function SpinMark({ dir, size }: { dir: string; size: number }) {
  return (
    <span
      style={{
        display: 'inline-flex',
        flexDirection: 'column',
        alignItems: 'center',
        fontSize: size,
        lineHeight: 0.85,
        verticalAlign: 'middle',
        marginLeft: Math.round(size * 0.35),
      }}
    >
      <span>°</span>
      <span>{dir}</span>
    </span>
  );
}

function SmallLegend({ top, prefix, colors, dir }: { top: number; prefix: string; colors: string[]; dir: string }) {
  return (
    <div
      style={{
        position: 'absolute',
        left: 1156,
        top,
        width: 100,
        height: 104,
        background: '#fff',
        border: '1px solid #cfcfcf',
        borderRadius: 3,
        boxShadow: '3px 3px 0 rgba(0,0,0,0.3)',
        fontFamily: FONT,
      }}
    >
      {ANGLES.map((a, i) => (
        <div key={a} style={{ position: 'absolute', left: 0, top: 10 + i * 20.2, width: 100, height: 0 }}>
          <div style={{ position: 'absolute', left: 4, top: -1, width: 27, height: 2, background: colors[i] }} />
          <div style={{ position: 'absolute', left: 39, top: -9, height: 18, lineHeight: '18px', fontSize: 12, whiteSpace: 'nowrap', color: '#000' }}>
            {prefix}-{a}
            <SpinMark dir={dir} size={8} />
          </div>
        </div>
      ))}
    </div>
  );
}

function BigLegend({ top, color, dir }: { top: number; color: string; dir: string }) {
  return (
    <div
      style={{
        position: 'absolute',
        left: 932,
        top,
        width: 237,
        height: 55,
        background: '#fff',
        border: '1px solid #d6d6d6',
        borderRadius: 5,
        fontFamily: FONT,
      }}
    >
      <div style={{ position: 'absolute', left: 11, top: 26, width: 63, height: 2, background: color }} />
      <div style={{ position: 'absolute', left: 97, top: 6, height: 44, lineHeight: '44px', fontSize: 29, whiteSpace: 'nowrap', color: '#000' }}>
        AA-1.1
        <SpinMark dir={dir} size={17} />
      </div>
    </div>
  );
}

function Txt({ x, y, size, children, align = 'left', rotate = false }: { x: number; y: number; size: number; children: React.ReactNode; align?: 'left' | 'center' | 'right'; rotate?: boolean }) {
  const tx = align === 'left' ? '0' : align === 'center' ? '-50%' : '-100%';
  return (
    <div
      style={{
        position: 'absolute',
        left: x,
        top: y,
        transform: `translate(${tx}, -50%)${rotate ? ' rotate(-90deg)' : ''}`,
        fontFamily: FONT,
        fontSize: size,
        whiteSpace: 'nowrap',
        lineHeight: 1.2,
        color: '#000',
      }}
    >
      {children}
    </div>
  );
}

function EnergyTitle() {
  return (
    <span>
      <i>E</i> − <i>E</i>
      <sub style={{ fontSize: '0.7em', verticalAlign: '-0.3em' }}><i>F</i></sub>(<i>eV</i>)
    </span>
  );
}

const lines = (sets: Pt[][], colors: string[], width: number): Series[] =>
  sets.map((d, i) => ({ data: d, color: colors[i], width }));

export default function App() {
  const wide = { xMin: -2, xMax: 2, xStep: 0.5, xDecimals: 1, yMax: 4, yStep: 2, padRight: 121, yAxisWidth: 88, yTickPad: 7 };
  const narrow = { xMin: -1, xMax: 1, xStep: 0.25, xDecimals: 2, yMax: 2, yStep: 1, padRight: 84, yAxisWidth: 125, yTickPad: 5 };
  return (
    <div style={{ position: 'absolute', left: 0, top: 0, width: 1270, height: 1366, background: '#fff', overflow: 'hidden' }}>
      <Panel {...wide} top={-20} height={230} padTop={34} padBottom={25} showX={false}
        series={lines([A_UP_11, A_UP_22, A_UP_44, A_UP_66, A_UP_88], ORANGES, 2)} />
      <Panel {...wide} top={155} height={290} padTop={30} padBottom={37} showX={true}
        series={lines([A_DN_11, A_DN_22, A_DN_44, A_DN_66, A_DN_88], BLUES, 2)} />
      <Panel {...wide} top={440} height={226} padTop={30} padBottom={25} showX={false}
        series={lines([B_UP_11, B_UP_22, B_UP_44, B_UP_66, B_UP_88], ORANGES, 2)} />
      <Panel {...wide} top={611} height={290} padTop={30} padBottom={38} showX={true}
        series={lines([B_DN_11, B_DN_22, B_DN_44, B_DN_66, B_DN_88], BLUES, 2)} />
      <Panel {...narrow} top={916} height={227} padTop={30} padBottom={25} showX={false}
        series={[{ data: C_UP_11, color: ORANGES[0], width: 2 }]}
        arrow={{ e: -0.014, from: 1.6, to: 0.94, color: '#ef8c0e' }} />
      <Panel {...narrow} top={1088} height={278} padTop={30} padBottom={26} showX={true}
        series={[{ data: C_DN_11, color: BLUES[0], width: 2 }]}
        arrow={{ e: -0.0085, from: 1.51, to: 0.84, color: '#3b62b6' }} />

      <Txt x={8} y={16} size={28}>(a)</Txt>
      <Txt x={8} y={471} size={28}>(b)</Txt>
      <Txt x={8} y={946} size={28}>(c)</Txt>

      <Txt x={28} y={180} size={28} align="center" rotate>Transmission(E)</Txt>
      <Txt x={28} y={634} size={28} align="center" rotate>Transmission(<i>E</i>)</Txt>
      <Txt x={60} y={1106} size={28} align="center" rotate>Transmission (<i>E</i>)</Txt>

      <Txt x={617} y={412} size={28} align="center"><EnergyTitle /></Txt>
      <Txt x={617} y={868} size={28} align="center"><EnergyTitle /></Txt>
      <Txt x={655} y={1345} size={28} align="center"><EnergyTitle /></Txt>

      <Txt x={650} y={993} size={28}>hole-vHS</Txt>
      <Txt x={647} y={1175} size={28} align="right">electron-vHS</Txt>

      <SmallLegend top={3} prefix="AA" colors={ORANGES} dir="↑" />
      <SmallLegend top={193} prefix="AA" colors={BLUES} dir="↓" />
      <SmallLegend top={459} prefix="AB" colors={ORANGES} dir="↑" />
      <SmallLegend top={649} prefix="AB" colors={BLUES} dir="↓" />
      <BigLegend top={961} color={ORANGES[0]} dir="↑" />
      <BigLegend top={1133} color={BLUES[0]} dir="↓" />
    </div>
  );
}
